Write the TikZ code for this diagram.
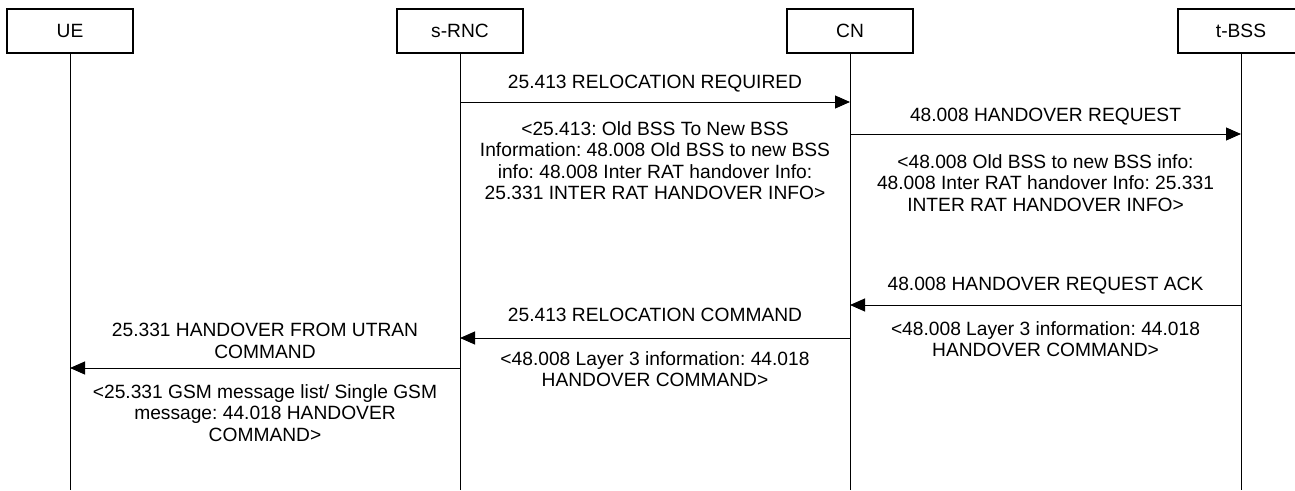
\documentclass[tikz,border=0pt]{standalone}
\usepackage{fontspec}
\setmainfont{Liberation Sans}
\usetikzlibrary{arrows.meta}
\frenchspacing
\begin{document}
\begin{tikzpicture}[x=1pt,y=-1pt,
  ent/.style={draw, line width=1.1pt, minimum width=126pt, minimum height=44pt, inner sep=0pt, font=\fontsize{19.2}{21}\selectfont},
  life/.style={line width=0.9pt},
  msg/.style={line width=1pt, -{Triangle[length=15pt,width=13pt]}},
  lbl/.style={font=\fontsize{19.2}{21.5}\selectfont, align=center, inner sep=0pt}]
\useasboundingbox (0,0) rectangle (1295,490);
% entities
\node[ent] (ue)   at (70,31)   {UE};
\node[ent] (srnc) at (460,31)  {s-RNC};
\node[ent] (cn)   at (850,31)  {CN};
\node[ent] (tbss) at (1241,31) {t-BSS};
% lifeline ends
\coordinate (ueE)   at (70,490);
\coordinate (srncE) at (460,490);
\coordinate (cnE)   at (850,490);
\coordinate (tbssE) at (1241,490);
\draw[life] (ue.south) -- (ueE);
\draw[life] (srnc.south) -- (srncE);
\draw[life] (cn.south) -- (cnE);
\draw[life] (tbss.south) -- (tbssE);
% message end points
\coordinate (m1a) at (460,102);  \coordinate (m1b) at (850,102);
\coordinate (m2a) at (850,134);  \coordinate (m2b) at (1241,134);
\coordinate (m3a) at (1241,305); \coordinate (m3b) at (850,305);
\coordinate (m4a) at (850,338);  \coordinate (m4b) at (460,338);
\coordinate (m5a) at (460,368);  \coordinate (m5b) at (70,368);
\draw[msg] (m1a) -- (m1b);
\draw[msg] (m2a) -- (m2b);
\draw[msg] (m3a) -- (m3b);
\draw[msg] (m4a) -- (m4b);
\draw[msg] (m5a) -- (m5b);
% labels
\node[lbl, anchor=base] (l1) at (655,88) {25.413 RELOCATION REQUIRED};
\node[lbl, anchor=north] (d1) at (655,121) {<25.413: Old BSS To New BSS\\Information: 48.008 Old BSS to new BSS\\info: 48.008 Inter RAT handover Info:\\25.331 INTER RAT HANDOVER INFO>};
\node[lbl, anchor=base] (l2) at (1045.5,121) {48.008 HANDOVER REQUEST};
\node[lbl, anchor=north] (d2) at (1045.5,154) {<48.008 Old BSS to new BSS info:\\48.008 Inter RAT handover Info: 25.331\\INTER RAT HANDOVER INFO>};
\node[lbl, anchor=base] (l3) at (1045.5,290) {48.008 HANDOVER REQUEST ACK};
\node[lbl, anchor=north] (d3) at (1045.5,321) {<48.008 Layer 3 information: 44.018\\HANDOVER COMMAND>};
\node[lbl, anchor=base] (l4) at (655,321) {25.413 RELOCATION COMMAND};
\node[lbl, anchor=north] (d4) at (655,351) {<48.008 Layer 3 information: 44.018\\HANDOVER COMMAND>};
\node[lbl, anchor=north] (l5) at (265,323) {25.331 HANDOVER FROM UTRAN\\COMMAND};
\node[lbl, anchor=north] (d5) at (265,384) {<25.331 GSM message list/ Single GSM\\message: 44.018 HANDOVER\\COMMAND>};
\end{tikzpicture}
\end{document}
